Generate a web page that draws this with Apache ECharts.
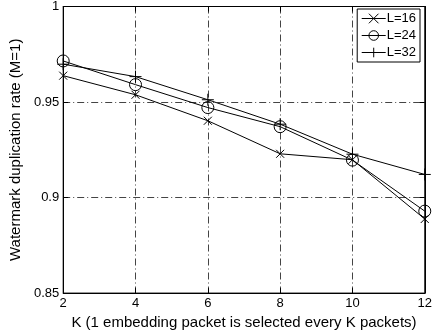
<!DOCTYPE html>
<html><head><meta charset="utf-8">
<script src="https://cdn.jsdelivr.net/npm/echarts@6/dist/echarts.min.js"></script>
<style>html,body{margin:0;padding:0;background:#fff}#c{width:435px;height:335px}</style>
</head><body><div id="c"></div>
<script>
const kValues = [2, 4, 6, 8, 10, 12];
const seriesNames = ['L=16', 'L=24', 'L=32'];
const l16 = [0.9638, 0.9538, 0.9402, 0.9229, 0.9198, 0.8888];
const l24 = [0.9715, 0.9591, 0.9471, 0.9371, 0.9196, 0.8929];
const l32 = [0.9698, 0.9633, 0.9512, 0.9384, 0.9227, 0.9121];
const yTicks = [0.85, 0.9, 0.95, 1];

const font = 'Liberation Sans';
const crossSym = 'path://M0,0L10,10M10,0L0,10';
const plusSym = 'path://M5,0L5,10M0,5L10,5';
const symbols = [crossSym, 'circle', plusSym];
const sizes = [8, 12, 12];
const allData = [l16, l24, l32];

const series = allData.map((vals, i) => ({
  name: seriesNames[i],
  type: 'line',
  data: kValues.map((k, j) => [k, vals[j]]),
  symbol: symbols[i],
  symbolSize: sizes[i],
  showAllSymbol: true,
  clip: false,
  lineStyle: {color: '#000', width: 1},
  itemStyle: {color: 'rgba(0,0,0,0)', borderColor: '#000', borderWidth: 1},
  emphasis: {disabled: true},
  z: 3
}));

const chart = echarts.init(document.getElementById('c'), null, {renderer: 'canvas'});
const dash = [7, 3, 1, 3];
chart.setOption({
  animation: false,
  backgroundColor: '#fff',
  textStyle: {fontFamily: font},
  grid: {left: 61, right: 7, top: 5, bottom: 40, show: true, borderColor: '#000', borderWidth: 1, backgroundColor: 'transparent'},
  legend: {
    right: 15, top: 9,
    orient: 'vertical',
    data: seriesNames,
    itemWidth: 24, itemHeight: 12, itemGap: 4,
    borderColor: '#000', borderWidth: 1, padding: [3, 4, 3, 4],
    backgroundColor: '#fff',
    lineStyle: {width: 1, color: '#000'},
    itemStyle: {borderWidth: 1, borderColor: '#000', color: 'rgba(0,0,0,0)'},
    textStyle: {fontFamily: font, fontSize: 13, color: '#000', padding: [0, 0, 0, -4]},
    inactiveColor: '#000'
  },
  xAxis: [{
    type: 'value', min: 2, max: 12, interval: 2,
    name: 'K (1 embedding packet is selected every K packets)',
    nameLocation: 'middle', nameGap: 20,
    nameTextStyle: {fontFamily: font, fontSize: 15, color: '#000'},
    axisLine: {show: true, lineStyle: {color: '#000', width: 1}},
    axisTick: {show: true, inside: true, length: 5, lineStyle: {color: '#000'}},
    axisLabel: {fontFamily: font, fontSize: 13, color: '#000', margin: 4},
    splitLine: {show: true, lineStyle: {color: '#444', width: 1, type: dash}}
  }, {
    type: 'value', min: 2, max: 12, interval: 2, position: 'top',
    axisLine: {show: true, lineStyle: {color: '#000'}},
    axisTick: {show: true, inside: true, length: 5, lineStyle: {color: '#000'}},
    axisLabel: {show: false}, splitLine: {show: false}
  }],
  yAxis: [{
    type: 'value', min: 0.85, max: 1, interval: 0.05,
    name: 'Watermark duplication rate (M=1)',
    nameLocation: 'middle', nameGap: 33,
    nameTextStyle: {fontFamily: font, fontSize: 15, color: '#000'},
    axisLine: {show: true, lineStyle: {color: '#000', width: 1}},
    axisTick: {show: true, inside: true, length: 5, lineStyle: {color: '#000'}},
    axisLabel: {fontFamily: font, fontSize: 13, color: '#000', margin: 4,
      formatter: v => { const t = yTicks.find(x => Math.abs(x - v) < 1e-6); return t === undefined ? '' : String(t); }},
    splitLine: {show: true, lineStyle: {color: '#444', width: 1, type: dash}}
  }, {
    type: 'value', min: 0.85, max: 1, interval: 0.05, position: 'right',
    axisLine: {show: true, lineStyle: {color: '#000'}},
    axisTick: {show: true, inside: true, length: 5, lineStyle: {color: '#000'}},
    axisLabel: {show: false}, splitLine: {show: false}
  }],
  series: series
});
</script></body></html>
